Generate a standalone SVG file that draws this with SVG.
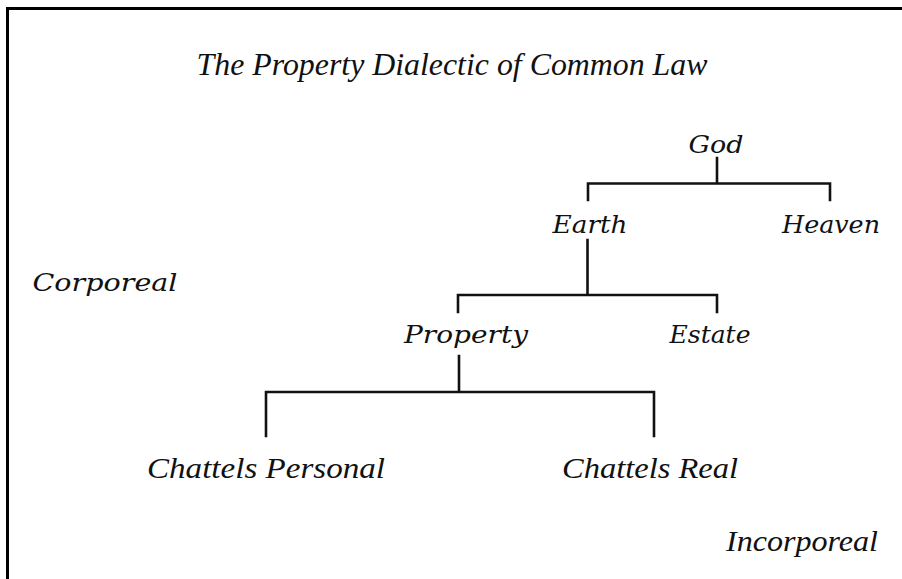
<svg xmlns="http://www.w3.org/2000/svg" width="902" height="579" viewBox="0 0 902 579">
<style>
.t{font-family:"Liberation Serif","Times New Roman",serif;font-style:italic;fill:#111;}
.n{font-family:"DejaVu Serif","Liberation Serif",serif;font-style:italic;fill:#111;font-size:25px;text-anchor:middle;}
.c{fill:none;stroke:#111;stroke-width:2.6;stroke-linecap:square;}
</style>
<rect width="902" height="579" fill="#fff"/>
<path d="M7.5 579 V8.5 H902" fill="none" stroke="#000" stroke-width="3"/>
<text class="t" x="452" y="75" font-size="32" text-anchor="middle" textLength="511" lengthAdjust="spacingAndGlyphs">The Property Dialectic of Common Law</text>
<text class="n" x="105" y="291" textLength="145" lengthAdjust="spacingAndGlyphs">Corporeal</text>
<text class="t" x="802" y="551" font-size="29" text-anchor="middle" textLength="152" lengthAdjust="spacingAndGlyphs">Incorporeal</text>
<g id="connectors">
<path class="c" d="M717 158 V183.5 M588 200 V183.5 H830 V200"/>
<path class="c" d="M587.5 240 V295 M458 312 V295 H717 V312"/>
<path class="c" d="M459 356 V392 M266 436 V392 H654 V436"/>
</g>
<g id="god"><text class="n" x="716" y="153" textLength="55" lengthAdjust="spacingAndGlyphs">God</text></g>
<g id="earth"><text class="n" x="590" y="233" textLength="75" lengthAdjust="spacingAndGlyphs">Earth</text></g>
<g id="heaven"><text class="n" x="831" y="233" textLength="98" lengthAdjust="spacingAndGlyphs">Heaven</text></g>
<g id="property"><text class="n" x="466" y="343" textLength="124" lengthAdjust="spacingAndGlyphs">Property</text></g>
<g id="estate"><text class="n" x="710" y="343" textLength="81" lengthAdjust="spacingAndGlyphs">Estate</text></g>
<g id="chattels-personal"><text class="t" x="266" y="478" font-size="30" text-anchor="middle" textLength="238" lengthAdjust="spacingAndGlyphs">Chattels Personal</text></g>
<g id="chattels-real"><text class="t" x="650" y="478" font-size="30" text-anchor="middle" textLength="176" lengthAdjust="spacingAndGlyphs">Chattels Real</text></g>
</svg>
